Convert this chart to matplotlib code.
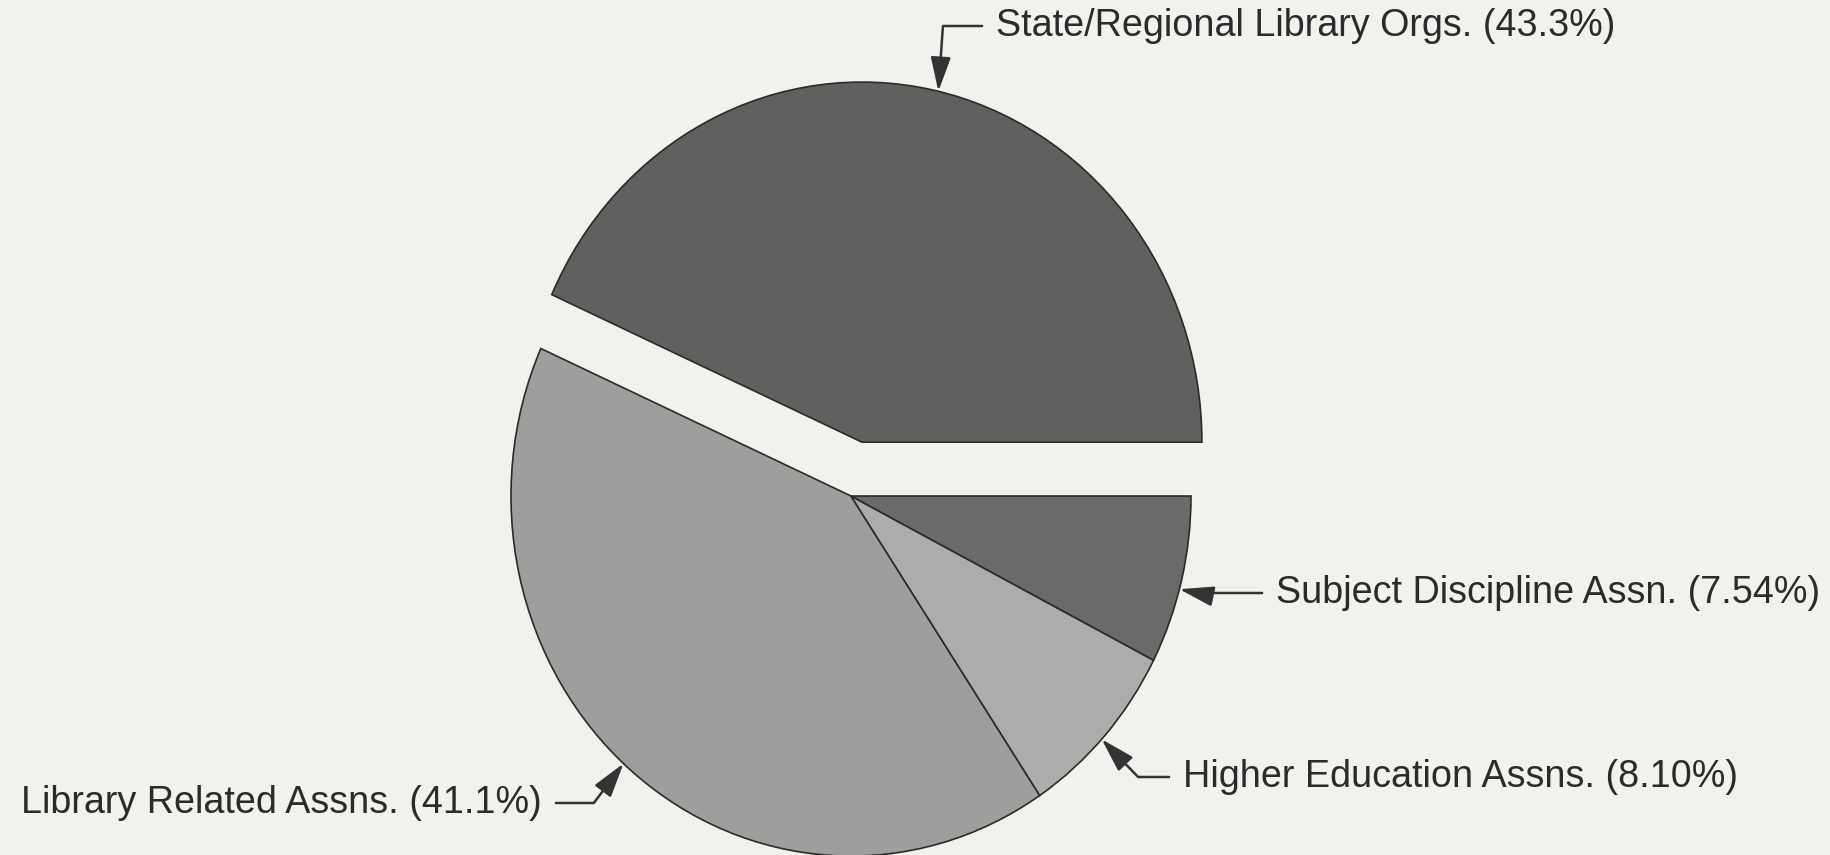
import numpy as np
import matplotlib.pyplot as plt

labels = ["State/Regional Library Orgs.", "Library Related Assns.",
          "Higher Education Assns.", "Subject Discipline Assn."]
shares = [43.3, 41.1, 8.10, 7.54]
pct_text = ["43.3%", "41.1%", "8.10%", "7.54%"]
colors = ["#5e615e", "#9c9f9c", "#aaadaa", "#686b68"]
explode = [0.153, 0, 0, 0]

# label layout: pixel position of text (from top-left), arrow tip angle on wedge,
# and angle of the arm that runs into the tip
text_px = [(996, 26), (542, 803), (1183, 777), (1276, 593)]
text_ha = ["left", "right", "left", "left"]
tip_angle = [77, 228, 317.5, 345]
arm_angle = [-94, 53, 134, 168]

W, H = 1831, 855
R = 340
k = 1.059  # scanned pie is a little taller than wide

fig = plt.figure(figsize=(W / 100, H / 100), dpi=100, facecolor="#f1f1ed")
ax = fig.add_axes([0, 0, 1, 1])

# pie's explode is in data units, so scale the fractions by the radius
wedges, _ = ax.pie(shares, explode=[e * R for e in explode], colors=colors,
                   startangle=0, counterclock=True, radius=R,
                   center=(851, (H - 496) / k), frame=True,
                   wedgeprops=dict(edgecolor="#2a2a2a", linewidth=1.2))

ax.set_aspect("auto")
ax.set_xlim(0, W)
ax.set_ylim(0, H / k)
ax.axis("off")

for w, lab, p, (tx, ty), ha, ta, aa in zip(wedges, labels, pct_text, text_px,
                                            text_ha, tip_angle, arm_angle):
    cx, cy = w.center
    tip = (cx + w.r * np.cos(np.radians(ta)), cy + w.r * np.sin(np.radians(ta)))
    ax.annotate(f"{lab} ({p})", xy=tip, xycoords="data",
                xytext=(tx, H - ty), textcoords="figure pixels",
                ha=ha, va="center", fontsize=27.2, color="#2b2b2b",
                family=["Liberation Sans", "DejaVu Sans"],
                arrowprops=dict(arrowstyle="-|>,head_length=0.75,head_width=0.22",
                                mutation_scale=28, color="#333333", lw=1.8,
                                connectionstyle=f"angle,angleA=0,angleB={aa},rad=0",
                                shrinkA=8, shrinkB=0))

fig.savefig("out.png", dpi=100, facecolor=fig.get_facecolor())
